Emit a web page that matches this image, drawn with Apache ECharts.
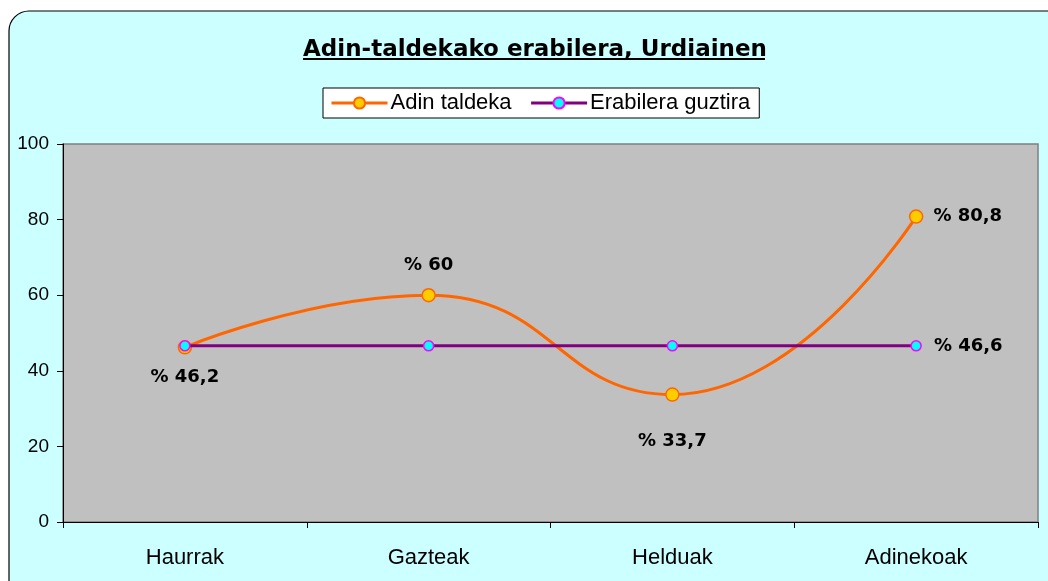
<!DOCTYPE html>
<html>
<head>
<meta charset="utf-8">
<script src="https://cdn.jsdelivr.net/npm/echarts@6/dist/echarts.min.js"></script>
<style>
  html, body { margin: 0; padding: 0; background: #fff; }
  #chart { width: 1048px; height: 581px; }
</style>
</head>
<body>
<div id="chart"></div>
<script>
// data
var categories = ['Haurrak', 'Gazteak', 'Helduak', 'Adinekoak'];
var adinTaldeka = [46.2, 60, 33.7, 80.8];
var erabileraGuztira = [46.6, 46.6, 46.6, 46.6];
var yTicks = [0, 20, 40, 60, 80, 100];

// label position for each orange point
var orangeLabelPos = ['bottom', 'top', 'bottom', 'right'];
var orangeLabelDist = [14, 14, 30, 10];

function pct(v) {
  return '% ' + String(v).replace('.', ',');
}

var chart = echarts.init(document.getElementById('chart'), null, { renderer: 'canvas' });

var orangeData = adinTaldeka.map(function (v, i) {
  return {
    value: v,
    label: { position: orangeLabelPos[i], distance: orangeLabelDist[i] }
  };
});

var purpleData = erabileraGuztira.map(function (v, i) {
  return {
    value: v,
    label: { show: i === erabileraGuztira.length - 1, position: 'right', distance: 12 }
  };
});

var labelStyle = {
  show: true,
  formatter: function (p) { return pct(p.value); },
  fontFamily: 'DejaVu Sans, sans-serif',
  fontWeight: 'bold',
  fontSize: 18,
  color: '#000'
};

var option = {
  backgroundColor: '#ffffff',
  animation: false,
  graphic: [
    {
      type: 'rect',
      z: -10,
      shape: { x: 9, y: 11, width: 1060, height: 600, r: 20 },
      style: { fill: '#CCFFFF', stroke: '#000', lineWidth: 1.2 }
    },
    {
      // title underline
      type: 'line',
      shape: { x1: 303, y1: 59, x2: 765, y2: 59 },
      style: { stroke: '#000', lineWidth: 2 }
    }
  ],
  title: {
    text: 'Adin-taldekako erabilera, Urdiainen',
    left: 530,
    top: 34,
    textAlign: 'center',
    textStyle: {
      fontFamily: 'DejaVu Sans, sans-serif',
      fontWeight: 'bold',
      fontSize: 23,
      color: '#000'
    }
  },
  legend: {
    left: 323,
    top: 88,
    backgroundColor: '#fff',
    borderColor: '#000',
    borderWidth: 1,
    borderRadius: 0,
    padding: [4, 9, 4, 7],
    itemWidth: 56,
    itemHeight: 14,
    itemGap: 18,
    lineStyle: { width: 3 },
    textStyle: {
      fontFamily: 'Arial, Liberation Sans, sans-serif',
      fontSize: 22,
      color: '#000',
      padding: [0, 0, 0, -2]
    },
    data: [
      { name: 'Adin taldeka' },
      { name: 'Erabilera guztira' }
    ]
  },
  grid: {
    left: 63,
    right: 10,
    top: 144,
    bottom: 59,
    show: true,
    backgroundColor: '#C0C0C0',
    borderColor: '#808080',
    borderWidth: 1.5
  },
  xAxis: {
    type: 'category',
    data: categories,
    boundaryGap: true,
    axisLine: { lineStyle: { color: '#000', width: 1 } },
    axisTick: { show: true, length: 6, lineStyle: { color: '#000' } },
    axisLabel: {
      margin: 25,
      fontFamily: 'Arial, Liberation Sans, sans-serif',
      fontSize: 22,
      color: '#000'
    },
    splitLine: { show: false }
  },
  yAxis: {
    type: 'value',
    min: yTicks[0],
    max: yTicks[yTicks.length - 1],
    interval: 20,
    axisLine: { show: true, lineStyle: { color: '#000', width: 1 } },
    axisTick: { show: true, length: 6, lineStyle: { color: '#000' } },
    axisLabel: {
      margin: 14,
      fontFamily: 'Arial, Liberation Sans, sans-serif',
      fontSize: 19,
      color: '#000'
    },
    splitLine: { show: false }
  },
  series: [
    {
      name: 'Adin taldeka',
      type: 'line',
      smooth: 0.5,
      data: orangeData,
      symbol: 'circle',
      symbolSize: 13,
      lineStyle: { color: '#FF6600', width: 3 },
      itemStyle: { color: '#FFCC00', borderColor: '#FF6600', borderWidth: 1.5 },
      label: labelStyle,
      z: 2
    },
    {
      name: 'Erabilera guztira',
      type: 'line',
      data: purpleData,
      symbol: 'circle',
      symbolSize: 10,
      lineStyle: { color: '#800080', width: 3 },
      itemStyle: { color: '#00FFFF', borderColor: '#FF00FF', borderWidth: 1.5 },
      label: labelStyle,
      z: 3
    }
  ]
};

chart.setOption(option);
</script>
</body>
</html>
